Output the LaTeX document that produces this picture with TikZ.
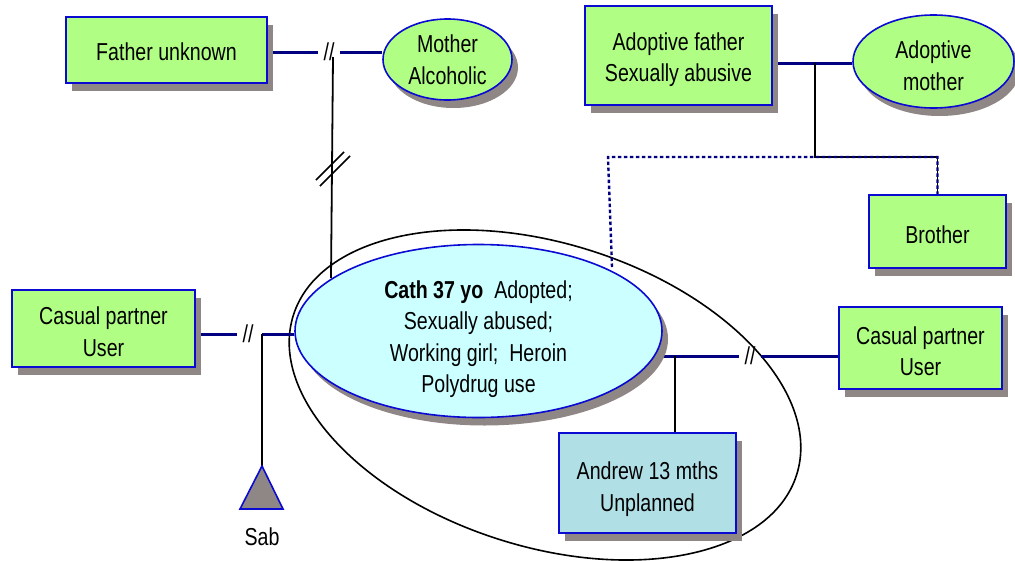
\documentclass[tikz,border=0pt]{standalone}
\usepackage{fontspec}
\setmainfont{Liberation Sans}[FakeStretch=0.80]
\usetikzlibrary{shapes.geometric,shadows,backgrounds}

\definecolor{boxgreen}{RGB}{176,255,132}
\definecolor{cathcyan}{RGB}{204,255,255}
\definecolor{childblue}{RGB}{176,224,230}
\definecolor{edgeblue}{RGB}{10,10,210}
\definecolor{shade}{RGB}{143,134,134}
\definecolor{navyline}{RGB}{0,0,128}

\begin{document}
\begin{tikzpicture}[x=1pt,y=-1pt,
  every node/.style={font=\fontsize{24.5}{31.5}\selectfont, align=center, inner sep=0pt},
  shadowed/.style={drop shadow={shadow xshift=6pt, shadow yshift=-8pt, fill=shade, opacity=1}},
  malebox/.style={rectangle, draw=edgeblue, line width=1.6pt, fill=#1, shadowed},
  femaleoval/.style={ellipse, draw=edgeblue, line width=1.6pt, fill=#1, shadowed},
  % caption centred in a shape, lowered by the given amount
  caption/.style 2 args={label={[yshift=-#1]center:{#2}}},
  breakmark/.style={minimum width=21pt},
  partnerline/.style={draw=navyline, line width=3pt},
  childline/.style={draw=black, line width=1.8pt},
  adoptline/.style={draw=navyline, line width=2.4pt, dash pattern=on 3.5pt off 2.5pt},
]
\useasboundingbox (0,0) rectangle (1015,560);

% ---- people ----
\node[malebox=boxgreen, minimum width=201pt, minimum height=66pt,
      caption={2pt}{Father unknown}] (father) at (166.5,50) {};
\node[femaleoval=boxgreen, minimum width=129pt, minimum height=81pt,
      caption={0pt}{Mother\\Alcoholic}] (mother) at (447.5,59.5) {};
\node[malebox=boxgreen, minimum width=187pt, minimum height=99pt,
      caption={4pt}{Adoptive father\\Sexually abusive}] (adf) at (678.5,55.5) {};
\node[femaleoval=boxgreen, minimum width=161pt, minimum height=93pt,
      caption={4pt}{Adoptive\\mother}] (adm) at (933.5,61.5) {};
\node[malebox=boxgreen, minimum width=137pt, minimum height=73pt,
      caption={3pt}{Brother}] (brother) at (937.5,231.5) {};
\node[malebox=boxgreen, minimum width=183pt, minimum height=77pt,
      caption={3pt}{Casual partner\\User}] (cpl) at (103.5,328.5) {};
\node[femaleoval=cathcyan, minimum width=367pt, minimum height=173pt,
      caption={8pt}{\textbf{Cath 37 yo}\ \ Adopted;\\Sexually abused;\\Working girl;\ \ Heroin\\Polydrug use}] (cath) at (478.5,331) {};
\node[malebox=boxgreen, minimum width=163pt, minimum height=82pt,
      caption={3pt}{Casual partner\\User}] (cpr) at (920.5,348) {};
\node[malebox=childblue, minimum width=177pt, minimum height=100pt,
      caption={6pt}{Andrew 13 mths\\Unplanned}] (andrew) at (647.5,483) {};
\node (sab) at (262,537) {Sab};

% ---- separation marks ----
\node[breakmark] (brk1) at (329,52) {//};
\node[breakmark] (brk2) at (248,334) {//};
\node[breakmark] (brk3) at (750,356) {//};

% ---- junction points ----
\coordinate (fmjoin) at (333,57);
\coordinate (cathtop) at (331,278);
\coordinate (sabjoin) at (262,334);
\coordinate (sabtop) at (262,466);
\coordinate (childjoin) at (675,356);
\coordinate (adjoin) at (815,63);
\coordinate (sibbar) at (815,157);
\coordinate (dotcorner) at (608,157);
\coordinate (cathlink) at (612,267);

% Sab: pregnancy triangle
\filldraw[fill=shade, draw=edgeblue, line width=1.6pt]
  (sabtop) -- (283,509) -- (240,509) -- cycle;

\begin{scope}[on background layer]
  % household boundary
  \draw[line width=1.6pt, rotate around={-17.6:(545,395)}]
    (545,395) ellipse [x radius=264, y radius=151.5];

  % partnerships
  \draw[partnerline] (father.east |- brk1) -- (brk1.west);
  \draw[partnerline] (brk1.east) -- (mother.west |- brk1);
  \draw[partnerline] (cpl.east |- brk2) -- (brk2.west);
  \draw[partnerline] (sabjoin) -- (cath.west |- sabjoin);
  \draw[partnerline] (cath.east |- brk3) -- (brk3.west);
  \draw[partnerline] (brk3.east) -- (cpr.west |- brk3);
  \draw[partnerline] (adf.east |- adjoin) -- (adm.west |- adjoin);

  % children
  \draw[childline] (fmjoin) -- (cathtop);
  \draw[childline] (sabjoin) -- (sabtop);
  \draw[childline] (childjoin) -- (childjoin |- andrew.north);
  \draw[childline] (adjoin) -- (sibbar) -- (sibbar -| brother.north) -- (brother.north);

  % adoption link
  \draw[adoptline] (cathlink) -- (dotcorner) -- (dotcorner -| brother.north) -- (brother.north);
\end{scope}

% cut-off mark on the line of descent
\draw[line width=1.5pt] (316,180) -- (344,152);
\draw[line width=1.5pt] (320,186) -- (350,156);
\end{tikzpicture}
\end{document}
